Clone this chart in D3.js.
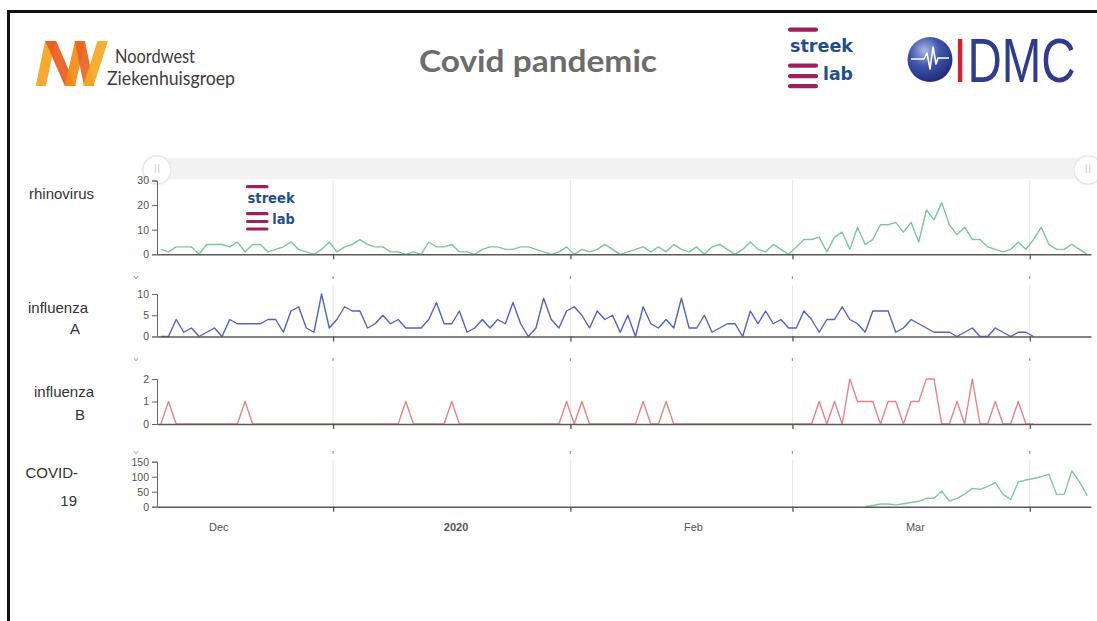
<!DOCTYPE html>
<html>
<head>
<meta charset="utf-8">
<script src="https://cdn.jsdelivr.net/npm/d3@7"></script>
<style>
  body { margin: 0; background: #fff; }
  svg { display: block; font-family: "Liberation Sans", Arial, sans-serif; }
</style>
</head>
<body>
<svg id="chart" width="1097" height="621"></svg>
<script>
// ---------------- DATA ----------------
// Daily counts, first value on 9 Dec 2019
const seriesStart = new Date(2019, 11, 9, 12);
const covidStart = new Date(2020, 2, 10, 12);

const rhinovirus = [
  2,1,3,3,3,0,4,4,4,3,
  5,1,4,4,1,2,3,5,2,1,
  0,2,5,1,3,4,6,4,3,3,
  1,1,0,1,0,5,3,3,4,1,
  1,0,2,3,3,2,2,3,3,2,
  1,0,1,3,0,2,1,2,4,2,
  0,1,2,3,1,3,1,4,2,1,
  3,0,3,4,2,0,2,5,2,1,
  4,2,0,3,6,6,7,1,7,9,
  2,11,4,6,12,12,13,9,13,5,
  18,14,21,12,8,11,6,6,3,2,
  1,2,5,2,6,11,4,2,2,4,
  2,0
];

const influenzaA = [
  0,0,4,1,2,0,1,2,0,4,
  3,3,3,3,4,4,1,6,7,2,
  1,10,2,4,7,6,6,2,3,5,
  3,4,2,2,2,4,8,3,3,6,
  1,2,4,2,4,3,8,3,0,2,
  9,4,2,6,7,5,2,6,4,5,
  1,5,0,7,3,2,4,2,9,2,
  2,5,1,2,3,3,0,6,3,6,
  3,4,2,2,6,4,1,4,4,7,
  4,3,1,6,6,6,1,2,4,3,
  2,1,1,1,0,1,2,0,0,2,
  1,0,1,1,0
];

const influenzaB = [
  0,1,0,0,0,0,0,0,0,0,
  0,1,0,0,0,0,0,0,0,0,
  0,0,0,0,0,0,0,0,0,0,
  0,0,1,0,0,0,0,0,1,0,
  0,0,0,0,0,0,0,0,0,0,
  0,0,0,1,0,1,0,0,0,0,
  0,0,0,1,0,0,1,0,0,0,
  0,0,0,0,0,0,0,0,0,0,
  0,0,0,0,0,0,1,0,1,0,
  2,1,1,1,0,1,1,0,1,1,
  2,2,0,0,1,0,2,0,0,1,
  0,0,1,0,0
];

const covid19 = [
  0,4,9,9,6,10,14,18,28,28,
  52,19,28,42,61,58,67,80,42,24,
  82,89,94,100,108,41,41,119,83,37
];

const panelNames = [["rhinovirus"], ["influenza", "A"], ["influenza", "B"], ["COVID-", "19"]];
const rhinoTicks = [0, 10, 20, 30];
const fluATicks = [0, 5, 10];
const fluBTicks = [0, 1, 2];
const covidTicks = [0, 50, 100, 150];
const monthLabelDates = [new Date(2019, 11, 17), new Date(2020, 0, 17), new Date(2020, 1, 17), new Date(2020, 2, 17)];
const domainDates = [new Date(2019, 11, 9), new Date(2020, 3, 9)];

// ---------------- LAYOUT ----------------
const W = 1097, H = 621;
const svg = d3.select("#chart");
svg.append("rect").attr("width", W).attr("height", H).attr("fill", "#fff");

const x = d3.scaleTime().domain(domainDates).range([157, 1091]);
const monthTicks = x.ticks(d3.timeMonth.every(1));

const toPoints = (start, arr) => arr.map((v, i) => ({ date: d3.timeDay.offset(start, i), value: v }));

const panels = [
  { values: toPoints(seriesStart, rhinovirus), ticks: rhinoTicks, color: "#7cc6a0",
    top: 180.5, bottom: 254.3, gridTop: 180,
    labels: [{ x: 29, y: 199, a: "start" }] },
  { values: toPoints(seriesStart, influenzaA), ticks: fluATicks, color: "#5163c4",
    top: 294, bottom: 336.5, gridTop: 285,
    labels: [{ x: 88, y: 313, a: "end" }, { x: 80, y: 334, a: "end" }] },
  { values: toPoints(seriesStart, influenzaB), ticks: fluBTicks, color: "#e68585",
    top: 379, bottom: 424, gridTop: 367,
    labels: [{ x: 94, y: 397, a: "end" }, { x: 85, y: 420, a: "end" }] },
  { values: toPoints(covidStart, covid19), ticks: covidTicks, color: "#7fcb9c",
    top: 461.7, bottom: 506.7, gridTop: 460,
    labels: [{ x: 78, y: 478, a: "end" }, { x: 77, y: 506, a: "end" }] }
];

// ---------------- FRAME ----------------
svg.append("path").attr("d", "M8.5,621 V11.5 H1097").attr("fill", "none")
  .attr("stroke", "#111").attr("stroke-width", 3);

// ---------------- HEADER ----------------
// Noordwest Ziekenhuisgroep logo
const defs = svg.append("defs");
const cp = defs.append("clipPath").attr("id", "nwclip");
cp.append("rect").attr("x", 30).attr("y", 41).attr("width", 85).attr("height", 45);
const nw = svg.append("g").attr("clip-path", "url(#nwclip)");
const nwStrokes = [
  { p: [[40, 90], [51, 37]], c: "#f6a21e" },
  { p: [[49, 37], [72, 90]], c: "#ea5b1c" },
  { p: [[69, 90], [81, 37]], c: "#f28a16" },
  { p: [[79, 37], [90, 90]], c: "#e9631f" },
  { p: [[87, 90], [104, 37]], c: "#f6a822" }
];
nwStrokes.forEach(s => {
  nw.append("line").attr("x1", s.p[0][0]).attr("y1", s.p[0][1]).attr("x2", s.p[1][0]).attr("y2", s.p[1][1])
    .attr("stroke", s.c).attr("stroke-width", 10).attr("stroke-opacity", 0.92);
});
svg.append("text").attr("x", 115).attr("y", 63).attr("font-size", 18.5).attr("fill", "#3d3d3d")
  .attr("font-family", "Lato, 'Liberation Sans', sans-serif")
  .attr("textLength", 80).attr("lengthAdjust", "spacingAndGlyphs").text("Noordwest");
svg.append("text").attr("x", 107).attr("y", 85).attr("font-size", 18.5).attr("fill", "#3d3d3d")
  .attr("font-family", "Lato, 'Liberation Sans', sans-serif")
  .attr("textLength", 128).attr("lengthAdjust", "spacingAndGlyphs").text("Ziekenhuisgroep");

// Title
svg.append("text").attr("x", 538).attr("y", 72).attr("text-anchor", "middle")
  .attr("font-family", "Lato, 'Liberation Sans', sans-serif").attr("font-weight", 700)
  .attr("font-size", 30.5).attr("fill", "#6c6c6c")
  .attr("textLength", 238).attr("lengthAdjust", "spacingAndGlyphs").text("Covid pandemic");

// streeklab logo
function streeklab(tx, ty, s) {
  const g = svg.append("g").attr("transform", `translate(${tx},${ty}) scale(${s})`);
  const barColor = "#9d1f5e", txtColor = "#1f4f8e";
  [0, 36, 46.5, 56.5].forEach(by => g.append("rect").attr("x", 0).attr("y", by).attr("width", 30)
    .attr("height", 4.2).attr("rx", 2).attr("fill", barColor));
  g.append("text").attr("x", 2).attr("y", 24.5).attr("font-family", "'DejaVu Sans', sans-serif")
    .attr("font-weight", 700).attr("font-size", 18.5).attr("fill", txtColor)
    .attr("textLength", 63).attr("lengthAdjust", "spacingAndGlyphs").text("streek");
  g.append("text").attr("x", 35).attr("y", 52.5).attr("font-family", "'DejaVu Sans', sans-serif")
    .attr("font-weight", 700).attr("font-size", 18.5).attr("fill", txtColor)
    .attr("textLength", 30).attr("lengthAdjust", "spacingAndGlyphs").text("lab");
}
streeklab(788, 27.5, 1);

// IDMC logo
const rg = defs.append("radialGradient").attr("id", "idmcg").attr("cx", "38%").attr("cy", "30%").attr("r", "75%");
rg.append("stop").attr("offset", "0%").attr("stop-color", "#a9b7e6");
rg.append("stop").attr("offset", "45%").attr("stop-color", "#3f55ae");
rg.append("stop").attr("offset", "100%").attr("stop-color", "#1c2a74");
svg.append("circle").attr("cx", 930).attr("cy", 59.5).attr("r", 22.5).attr("fill", "url(#idmcg)");
svg.append("polyline").attr("points", "911,59 924,59 927,53 930,69 933,47 936,64 938,58 949,58")
  .attr("fill", "none").attr("stroke", "#fff").attr("stroke-width", 1.6).attr("stroke-linejoin", "round");
svg.append("g").attr("transform", "translate(953.5,82) scale(0.76,1)")
  .append("text").attr("x", 0).attr("y", 0).attr("font-size", 62.5).attr("fill", "#d42130").text("I");
svg.append("g").attr("transform", "translate(967.5,82) scale(0.76,1)")
  .append("text").attr("x", 0).attr("y", 0).attr("font-size", 62.5).attr("fill", "#2e3b8f").text("DMC");

// ---------------- RANGE SLIDER ----------------
svg.append("rect").attr("x", 157).attr("y", 158).attr("width", 934).attr("height", 21).attr("fill", "#f2f2f2");
[157, 1088].forEach(hx => {
  svg.append("circle").attr("cx", hx).attr("cy", 170).attr("r", 15.5).attr("fill", "#f4f4f4");
  svg.append("circle").attr("cx", hx).attr("cy", 170).attr("r", 14).attr("fill", "#fff")
    .attr("stroke", "#e2e2e2").attr("stroke-width", 1.2);
  [-1.8, 1.8].forEach(dx => svg.append("line").attr("x1", hx + dx).attr("x2", hx + dx)
    .attr("y1", 164).attr("y2", 173).attr("stroke", "#cfcfcf").attr("stroke-width", 1));
});

// ---------------- PANELS ----------------
panels.forEach((p, pi) => {
  const y = d3.scaleLinear().domain([0, d3.max(p.ticks)]).range([p.bottom, p.top]);
  const g = svg.append("g");

  // gridlines
  g.selectAll(".grid").data(monthTicks).join("line")
    .attr("x1", d => x(d)).attr("x2", d => x(d))
    .attr("y1", p.gridTop).attr("y2", p.bottom)
    .attr("stroke", "#e6e6e6").attr("stroke-width", 1);

  // faint marks above lower panels
  if (pi > 0) {
    g.selectAll(".mark").data(monthTicks).join("line")
      .attr("x1", d => x(d)).attr("x2", d => x(d))
      .attr("y1", p.gridTop - 9).attr("y2", p.gridTop - 6)
      .attr("stroke", "#9a9a9a").attr("stroke-width", 1.2);
    g.append("path").attr("d", `M134,${p.gridTop - 9} l2,3 l2,-3`).attr("fill", "none")
      .attr("stroke", "#aaa").attr("stroke-width", 1);
  }

  // line
  const line = d3.line().x(d => x(d.date)).y(d => y(d.value));
  g.append("path").datum(p.values).attr("d", line).attr("fill", "none")
    .attr("stroke", p.color).attr("stroke-width", 1.4).attr("stroke-linejoin", "round");

  // x axis
  const xa = g.append("g").attr("transform", `translate(0,${p.bottom})`)
    .call(d3.axisBottom(x).tickValues(monthTicks).tickSize(5).tickSizeOuter(0).tickFormat(""));
  xa.select(".domain").attr("stroke", "#5a5a5a").attr("stroke-width", 1.6);
  xa.selectAll(".tick line").attr("stroke", "#555").attr("stroke-width", 1.3);

  // y axis
  const ya = g.append("g").attr("transform", `translate(157,0)`)
    .call(d3.axisLeft(y).tickValues(p.ticks).tickSize(5).tickPadding(3).tickFormat(d3.format("d")));
  ya.select(".domain").attr("stroke", "#666").attr("stroke-width", 1);
  ya.selectAll(".tick line").attr("stroke", "#666");
  ya.selectAll(".tick text").attr("fill", "#555").attr("font-size", 10.5)
    .attr("font-family", "'Liberation Sans', Arial, sans-serif");

  // panel label
  panelNames[pi].forEach((t, li) => {
    const L = p.labels[li];
    svg.append("text").attr("x", L.x).attr("y", L.y).attr("text-anchor", L.a)
      .attr("font-size", 15).attr("fill", "#333").text(t);
  });

  // month labels on the last panel
  if (pi === panels.length - 1) {
    const la = g.append("g").attr("transform", `translate(0,${p.bottom})`)
      .call(d3.axisBottom(x).tickValues(monthLabelDates).tickSize(0).tickPadding(16.5)
        .tickFormat(d => d.getMonth() === 0 ? d3.timeFormat("%Y")(d) : d3.timeFormat("%b")(d)));
    la.select(".domain").remove();
    la.selectAll(".tick text").attr("fill", "#555").attr("font-size", 11)
      .attr("font-family", "'Liberation Sans', Arial, sans-serif")
      .attr("font-weight", d => d.getMonth() === 0 ? 700 : 400);
  }
});

// streeklab logo inside rhinovirus panel
streeklab(246, 185, 0.75);
</script>
</body>
</html>
